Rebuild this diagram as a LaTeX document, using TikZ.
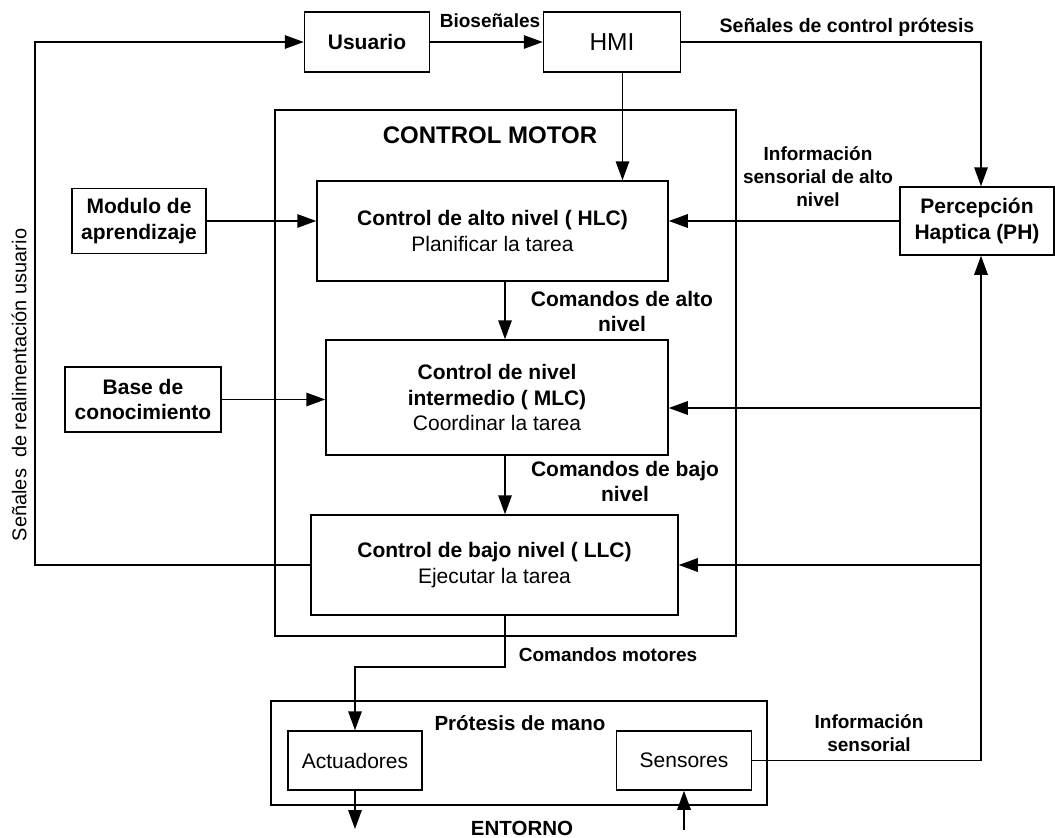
\documentclass[tikz,border=0pt]{standalone}
\usepackage{fontspec}
\setmainfont{Liberation Sans}
\usetikzlibrary{arrows.meta}

\begin{document}
\begin{tikzpicture}[
  x=1pt,y=-1pt,
  line/.style={line width=1.5pt},
  arrow/.style={line,-{Triangle[length=19pt,width=13.5pt]}},
  block/.style={draw,line width=1.5pt,inner sep=0pt,align=center,
    font=\fontsize{21}{25.5}\selectfont},
  bblock/.style={block,font=\bfseries\fontsize{21}{25.5}\selectfont},
  tag/.style={align=center,inner sep=0pt,font=\bfseries\fontsize{19}{23}\selectfont}]
  \useasboundingbox (0,0) rectangle (1055,838);
  \coordinate (spine) at (505,0);
  \coordinate (bus) at (981,0);
  \coordinate (fb) at (35,0);
  \coordinate (mlcin) at (981,408);
  \coordinate (motor) at (505,667);
  \coordinate (envout) at (355,829);
  \coordinate (envin) at (684,830);
  % top row
  \node[bblock,minimum width=125pt,minimum height=60pt] (usuario) at (367,42) {Usuario};
  \node[block,minimum width=137pt,minimum height=60pt,
    font=\fontsize{24.5}{29}\selectfont] (hmi) at (612,42) {HMI};
  \node[bblock,minimum width=154pt,minimum height=68pt] (pH) at (977,221)
    {Percepción\\Haptica (PH)};
  % control motor
  \node[draw,line,minimum width=461pt,minimum height=526pt] (cm) at (505.5,373) {};
  \node[font=\bfseries\fontsize{24}{29}\selectfont] (cmtitle) at (490,135) {CONTROL MOTOR};
  \node[block,minimum width=351pt,minimum height=100pt] (hlc) at (492.5,231)
    {\textbf{Control de alto nivel ( HLC)}\\Planificar la tarea};
  \node[block,minimum width=342pt,minimum height=115pt] (mlc) at (497,397.5)
    {\textbf{Control de nivel}\\\textbf{intermedio ( MLC)}\\Coordinar la tarea};
  \node[block,minimum width=367pt,minimum height=100pt] (llc) at (494.5,565)
    {\textbf{Control de bajo nivel ( LLC)}\\Ejecutar la tarea};
  \node[bblock,minimum width=134pt,minimum height=65pt] (modulo) at (139,221)
    {Modulo de\\aprendizaje};
  \node[bblock,minimum width=156pt,minimum height=65pt] (base) at (143,399.5)
    {Base de\\conocimiento};
  % protesis
  \node[draw,line,minimum width=496pt,minimum height=104pt] (protesis) at (519,753) {};
  \node[block,minimum width=134pt,minimum height=59pt] (act) at (355,760.5) {Actuadores};
  \node[block,minimum width=135pt,minimum height=59pt] (sens) at (684,760.5) {Sensores};
  % connectors
  \draw[arrow] (usuario) -- (hmi);
  \draw[arrow] (hmi.east) -| ([xshift=4pt]pH.north);
  \draw[arrow] ([xshift=10.5pt]hmi.south) -- ([xshift=10.5pt]hmi.south |- hlc.north);
  \draw[arrow] (pH.west) -- (pH.west -| hlc.east);
  \draw[arrow] (modulo) -- (modulo -| hlc.west);
  \draw[arrow] (base) -- (base -| mlc.west);
  \draw[arrow] (hlc.south -| spine) -- (mlc.north -| spine);
  \draw[arrow] (mlc.south -| spine) -- (llc.north -| spine);
  \draw[arrow] (mlcin) -- (mlcin -| mlc.east);
  \draw[arrow] (bus |- llc.east) -- (llc.east);
  \draw[arrow] (llc.west) -| (fb |- usuario.west) -- (usuario.west);
  \draw[arrow] (llc.south -| motor) -- (motor) -| (act.north);
  \draw[arrow] (sens.east) -| (bus |- pH.south);
  \draw[arrow] (act.south) -- (envout);
  \draw[arrow] (envin) -- (sens.south);
  % labels
  \node[tag] (bio) at (490,21) {Bioseñales};
  \node[tag,font=\bfseries\fontsize{19.5}{23}\selectfont] (senctrl) at (847,27)
    {Señales de control prótesis};
  \node[tag] (infoalto) at (818,177) {Información\\sensorial de alto\\nivel};
  \node[tag,font=\bfseries\fontsize{21}{25}\selectfont] (cmdalto) at (622,311)
    {Comandos de alto\\nivel};
  \node[tag,font=\bfseries\fontsize{21}{25}\selectfont] (cmdbajo) at (625,481)
    {Comandos de bajo\\nivel};
  \node[tag] (cmdmot) at (608,655) {Comandos motores};
  \node[tag,font=\bfseries\fontsize{20.5}{24}\selectfont] (prottitle) at (520,723)
    {Prótesis de mano};
  \node[tag] (infosens) at (869,733) {Información\\sensorial};
  \node[tag,font=\bfseries\fontsize{20.5}{24}\selectfont] (entorno) at (522,828) {ENTORNO};
  \node[rotate=90,font=\fontsize{20}{24}\selectfont] (fblabel) at (19,385)
    {Señales\ \ de realimentación usuario};
\end{tikzpicture}
\end{document}
